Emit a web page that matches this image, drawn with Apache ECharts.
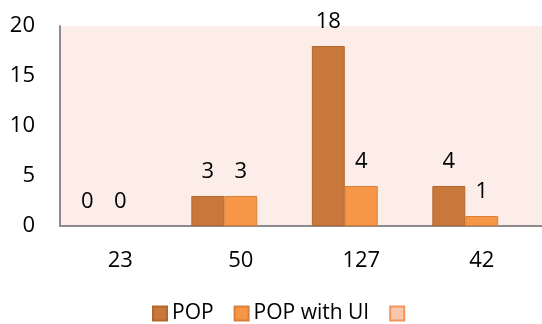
<!DOCTYPE html>
<html>
<head>
<meta charset="utf-8">
<script src="https://cdn.jsdelivr.net/npm/echarts@6/dist/echarts.min.js"></script>
<style>
  html, body { margin: 0; padding: 0; background: #fff; }
  #chart { width: 542px; height: 324px; }
</style>
</head>
<body>
<div id="chart"></div>
<script>
// Categories along the x axis
const categories = ['23', '50', '127', '42'];
// Bar values per series
const popValues = [0, 3, 18, 4];
const popWithUiValues = [0, 3, 4, 1];
const thirdValues = [null, null, null, null];
// Y axis scale
const yMin = 0, yMax = 20, yStep = 5;

const FONT = '"Open Sans", "Liberation Sans", sans-serif';
const chart = echarts.init(document.getElementById('chart'));

const valueLabel = {
  show: true,
  position: 'top',
  distance: 13,
  color: '#000',
  fontSize: 22,
  fontFamily: FONT
};

// zero-height bars get no outline so nothing is drawn on the baseline
const toItems = (values) => values.map(v => (v === 0 ? { value: v, itemStyle: { borderWidth: 0 } } : v));

chart.setOption({
  animation: false,
  grid: { left: 60, right: 0, top: 26, bottom: 98, containLabel: false,
          show: true, backgroundColor: '#FCEDE8', borderWidth: 0 },
  legend: {
    left: 147, top: 298,
    icon: 'rect',
    itemWidth: 14, itemHeight: 14, itemGap: 20,
    textStyle: { fontSize: 21, fontFamily: FONT, color: '#000' },
    data: ['POP', 'POP with UI', ' ']
  },
  xAxis: {
    type: 'category',
    data: categories,
    axisLine: { lineStyle: { color: '#8C8C8C', width: 2 } },
    axisTick: { show: false },
    axisLabel: { color: '#000', fontSize: 22, fontFamily: FONT, margin: 24 }
  },
  yAxis: {
    type: 'value',
    min: yMin, max: yMax, interval: yStep,
    splitLine: { show: false },
    axisLine: { show: true, lineStyle: { color: '#8C8C8C', width: 2 } },
    axisTick: { show: false },
    axisLabel: { color: '#000', fontSize: 22, fontFamily: FONT, margin: 25 }
  },
  series: [
    {
      name: 'POP', type: 'bar', data: toItems(popValues),
      barGap: '0%', barCategoryGap: '18%',
      itemStyle: { color: '#C8783A', borderColor: '#B5662C', borderWidth: 1 },
      label: valueLabel
    },
    {
      name: 'POP with UI', type: 'bar', data: toItems(popWithUiValues),
      barGap: '0%', barCategoryGap: '18%',
      itemStyle: { color: '#F79646', borderColor: '#D9803A', borderWidth: 1 },
      label: valueLabel
    },
    {
      name: ' ', type: 'bar', data: thirdValues,
      barGap: '0%', barCategoryGap: '18%',
      itemStyle: { color: '#FBC7AC', borderColor: '#F0965A', borderWidth: 1 },
      label: { show: false }
    }
  ]
});
</script>
</body>
</html>
